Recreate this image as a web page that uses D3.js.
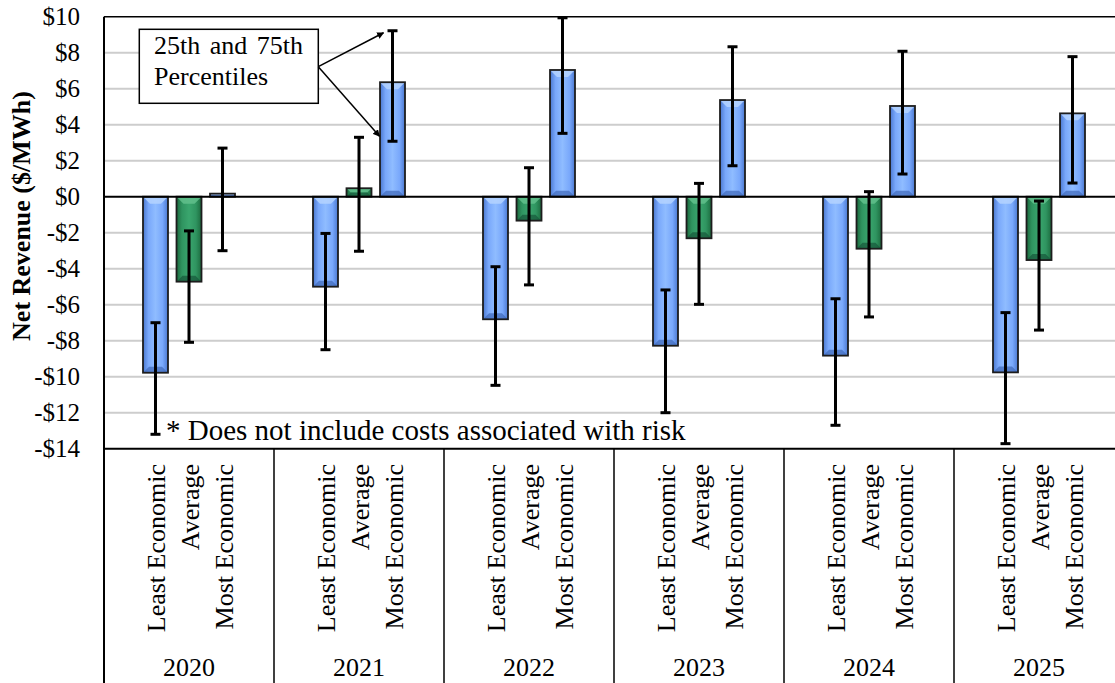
<!DOCTYPE html>
<html>
<head>
<meta charset="utf-8">
<script src="https://cdn.jsdelivr.net/npm/d3@7"></script>
<style>
  html, body { margin: 0; padding: 0; background: #fff; }
  svg { display: block; }
</style>
</head>
<body>
<div id="chart"></div>
<script>
const years = ["2020", "2021", "2022", "2023", "2024", "2025"];
const seriesNames = ["Least Economic", "Average", "Most Economic"];

// bar values ($/MWh)
const leastValues = [-9.78, -5.0, -6.81, -8.28, -8.83, -9.76];
const averageValues = [-4.72, 0.47, -1.33, -2.31, -2.89, -3.52];
const mostValues = [0.17, 6.36, 7.04, 5.37, 5.04, 4.63];

// 25th / 75th percentiles
const leastP25 = [-13.2, -8.5, -10.48, -12.0, -12.7, -13.72];
const leastP75 = [-7.0, -2.04, -3.89, -5.18, -5.67, -6.44];
const averageP25 = [-8.09, -3.03, -4.9, -5.98, -6.68, -7.41];
const averageP75 = [-1.9, 3.3, 1.61, 0.74, 0.28, -0.24];
const mostP25 = [-3.0, 3.08, 3.52, 1.72, 1.26, 0.76];
const mostP75 = [2.7, 9.22, 9.94, 8.33, 8.08, 7.78];

const yTicks = [10, 8, 6, 4, 2, 0, -2, -4, -6, -8, -10, -12, -14];

const width = 1115;
const height = 683;
const margin = { left: 104, top: 16.7, bottom: 448.7, right: 1124 };
const font = "'Liberation Serif', 'Times New Roman', serif";

const seriesData = [
    { name: "Least Economic", values: leastValues, lo: leastP25, hi: leastP75, color: "blue" },
    { name: "Average", values: averageValues, lo: averageP25, hi: averageP75, color: "green" },
    { name: "Most Economic", values: mostValues, lo: mostP25, hi: mostP75, color: "blue" }
];

const bars = [];
years.forEach((year, i) => {
    seriesData.forEach(s => {
        bars.push({ year, series: s.name, value: s.values[i], lo: s.lo[i], hi: s.hi[i], color: s.color });
    });
});

const x0 = d3.scaleBand().domain(years).range([margin.left, margin.right]).padding(0);
const x1 = d3.scaleBand().domain(seriesNames).range([0, x0.bandwidth()])
    .paddingInner(0.254).paddingOuter(1.164);
const y = d3.scaleLinear().domain([-14, 10]).range([margin.bottom, margin.top]);

const svg = d3.select("#chart").append("svg")
    .attr("width", width)
    .attr("height", height)
    .attr("viewBox", `0 0 ${width} ${height}`);

const defs = svg.append("defs");

const palettes = {
    blue: { edge: "#4a78d0", mid: "#79a8fb", light: "#8fbcff", top: "#b5d4ff", bottom: "#3f68b8" },
    green: { edge: "#1c6a3e", mid: "#2f9460", light: "#3aa66e", top: "#62c08c", bottom: "#17573a" }
};

Object.entries(palettes).forEach(([key, p]) => {
    const g = defs.append("linearGradient")
        .attr("id", `grad-${key}`)
        .attr("x1", "0").attr("x2", "1").attr("y1", "0").attr("y2", "0");
    g.append("stop").attr("offset", "0%").attr("stop-color", p.edge);
    g.append("stop").attr("offset", "22%").attr("stop-color", p.mid);
    g.append("stop").attr("offset", "50%").attr("stop-color", p.light);
    g.append("stop").attr("offset", "78%").attr("stop-color", p.mid);
    g.append("stop").attr("offset", "100%").attr("stop-color", p.edge);
});

defs.append("marker")
    .attr("id", "arrow")
    .attr("viewBox", "0 0 10 10")
    .attr("refX", 9).attr("refY", 5)
    .attr("markerWidth", 7).attr("markerHeight", 7)
    .attr("markerUnits", "userSpaceOnUse")
    .attr("orient", "auto")
    .append("path")
    .attr("d", "M0,0 L10,5 L0,10 z")
    .attr("fill", "#000");

// gridlines
svg.append("g")
    .attr("class", "y-grid")
    .selectAll("line")
    .data(yTicks.filter(d => d !== 0 && d !== 10 && d !== -14))
    .join("line")
    .attr("x1", margin.left)
    .attr("x2", margin.right)
    .attr("y1", d => y(d))
    .attr("y2", d => y(d))
    .attr("stroke", "#cdcdcd")
    .attr("stroke-width", 2);

// plot frame
svg.append("line")
    .attr("x1", margin.left).attr("x2", margin.right)
    .attr("y1", y(10)).attr("y2", y(10))
    .attr("stroke", "#000").attr("stroke-width", 1.5);
svg.append("line")
    .attr("x1", margin.left).attr("x2", margin.right)
    .attr("y1", y(-14)).attr("y2", y(-14))
    .attr("stroke", "#000").attr("stroke-width", 2);

// y tick labels
svg.append("g")
    .attr("class", "y-axis")
    .selectAll("text")
    .data(yTicks)
    .join("text")
    .attr("x", 80)
    .attr("y", d => y(d))
    .attr("dy", "0.35em")
    .attr("text-anchor", "end")
    .style("font-family", font)
    .style("font-size", "25px")
    .attr("fill", "#000")
    .text(d => d < 0 ? `-$${-d}` : `$${d}`);

svg.append("text")
    .attr("transform", `translate(30, 216) rotate(-90)`)
    .attr("text-anchor", "middle")
    .style("font-family", font)
    .style("font-size", "26px")
    .style("font-weight", "bold")
    .text("Net Revenue ($/MWh)");

// bars
const bw = x1.bandwidth();
const barGroup = svg.append("g").attr("class", "bars");

const barItems = barGroup.selectAll("g")
    .data(bars)
    .join("g")
    .attr("transform", d => `translate(${x0(d.year) + x1(d.series)}, 0)`);

barItems.append("rect")
    .attr("x", 0)
    .attr("y", d => y(Math.max(0, d.value)))
    .attr("width", bw)
    .attr("height", d => Math.abs(y(d.value) - y(0)))
    .attr("fill", d => `url(#grad-${d.color})`);

// bevel highlight on top, shade on bottom
barItems.append("path")
    .attr("d", d => {
        const top = y(Math.max(0, d.value));
        const h = Math.abs(y(d.value) - y(0));
        const b = Math.min(7, h / 2);
        return `M0,${top} L${bw},${top} L${bw - b},${top + b} L${b},${top + b} Z`;
    })
    .attr("fill", d => palettes[d.color].top)
    .attr("opacity", 0.85);

barItems.append("path")
    .attr("d", d => {
        const top = y(Math.max(0, d.value));
        const h = Math.abs(y(d.value) - y(0));
        const bot = top + h;
        const b = Math.min(6, h / 2);
        return `M0,${bot} L${bw},${bot} L${bw - b},${bot - b} L${b},${bot - b} Z`;
    })
    .attr("fill", d => palettes[d.color].bottom)
    .attr("opacity", 0.7);

barItems.append("rect")
    .attr("x", 0)
    .attr("y", d => y(Math.max(0, d.value)))
    .attr("width", bw)
    .attr("height", d => Math.abs(y(d.value) - y(0)))
    .attr("fill", "none")
    .attr("stroke", "#1d1d1d")
    .attr("stroke-width", 1.8);

// zero line (drawn over the bars)
svg.append("line")
    .attr("x1", margin.left).attr("x2", margin.right)
    .attr("y1", y(0)).attr("y2", y(0))
    .attr("stroke", "#000").attr("stroke-width", 2);

// error bars
const errGroup = svg.append("g").attr("class", "error-bars");
const errItems = errGroup.selectAll("g")
    .data(bars)
    .join("g")
    .attr("transform", d => `translate(${x0(d.year) + x1(d.series) + bw / 2}, 0)`);

errItems.append("line")
    .attr("y1", d => y(d.lo))
    .attr("y2", d => y(d.hi))
    .attr("stroke", "#000").attr("stroke-width", 3);
errItems.append("line")
    .attr("x1", -5).attr("x2", 5)
    .attr("y1", d => y(d.lo)).attr("y2", d => y(d.lo))
    .attr("stroke", "#000").attr("stroke-width", 3);
errItems.append("line")
    .attr("x1", -5).attr("x2", 5)
    .attr("y1", d => y(d.hi)).attr("y2", d => y(d.hi))
    .attr("stroke", "#000").attr("stroke-width", 3);

// category axis: dividers
const bounds = years.map(d => x0(d)).concat([x0(years[years.length - 1]) + x0.bandwidth()]);
svg.append("g")
    .attr("class", "x-dividers")
    .selectAll("line")
    .data(bounds)
    .join("line")
    .attr("x1", d => d).attr("x2", d => d)
    .attr("y1", (d, i) => i === 0 ? y(10) : y(-14))
    .attr("y2", height)
    .attr("stroke", "#000")
    .attr("stroke-width", (d, i) => i === 0 ? 2 : 1.5);

// series labels (rotated)
svg.append("g")
    .attr("class", "x-series-labels")
    .selectAll("text")
    .data(bars)
    .join("text")
    .attr("transform", d => `translate(${x0(d.year) + x1(d.series) + bw / 2 + 10}, 464) rotate(-90)`)
    .attr("text-anchor", "end")
    .style("font-family", font)
    .style("font-size", "26px")
    .attr("fill", "#000")
    .text(d => d.series);

// year labels
svg.append("g")
    .attr("class", "x-year-labels")
    .selectAll("text")
    .data(years)
    .join("text")
    .attr("x", d => x0(d) + x0.bandwidth() / 2)
    .attr("y", 676)
    .attr("text-anchor", "middle")
    .style("font-family", font)
    .style("font-size", "26px")
    .attr("fill", "#000")
    .text(d => d);

// footnote
svg.append("text")
    .attr("x", 166)
    .attr("y", 440)
    .style("font-family", font)
    .style("font-size", "29px")
    .attr("fill", "#000")
    .text("* Does not include costs associated with risk");

// percentile callout
const target = bars.find(d => d.year === "2021" && d.series === "Most Economic");
const tx = x0(target.year) + x1(target.series) + bw / 2;
const box = { x: 139.3, y: 29.3, w: 179, h: 74 };

svg.append("rect")
    .attr("x", box.x).attr("y", box.y)
    .attr("width", box.w).attr("height", box.h)
    .attr("fill", "#fff")
    .attr("stroke", "#000")
    .attr("stroke-width", 1.5);

svg.append("text")
    .attr("x", 154).attr("y", 54)
    .style("font-family", font)
    .style("font-size", "26px")
    .style("word-spacing", "3px")
    .text("25th and 75th");
svg.append("text")
    .attr("x", 154).attr("y", 85)
    .style("font-family", font)
    .style("font-size", "26px")
    .text("Percentiles");

const arrowStart = [box.x + box.w, 66.7];
[[tx - 9, y(target.hi) + 2], [tx - 13, y(target.lo) - 5]].forEach(([ax, ay]) => {
    svg.append("line")
        .attr("x1", arrowStart[0]).attr("y1", arrowStart[1])
        .attr("x2", ax).attr("y2", ay)
        .attr("stroke", "#000")
        .attr("stroke-width", 1.5)
        .attr("marker-end", "url(#arrow)");
});
</script>
</body>
</html>
